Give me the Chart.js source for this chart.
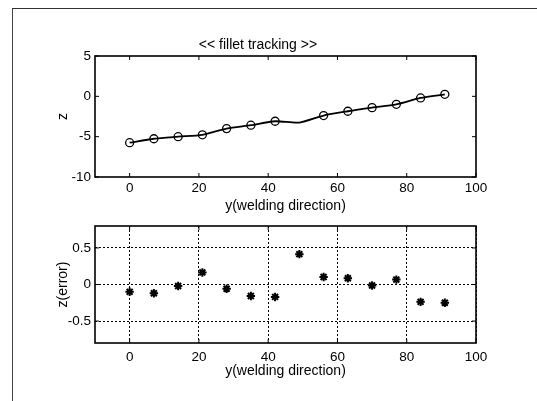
<!DOCTYPE html>
<html><head><meta charset="utf-8">
<script src="https://cdn.jsdelivr.net/npm/chart.js@4.4.1/dist/chart.umd.min.js"></script>
<style>
html,body{margin:0;padding:0;background:#fff;}
#wrap{position:relative;width:537px;height:401px;overflow:hidden;background:#fff;}
#wrap canvas{position:absolute;left:0;top:0;}
#frame{position:absolute;left:12px;top:8px;width:540px;height:410px;border-left:1px solid #444;border-top:1px solid #333;}
</style></head><body>
<div id="wrap"><div id="frame"></div><canvas id="c1" width="537" height="401"></canvas><canvas id="c2" width="537" height="401"></canvas></div>
<script>
// ---- data ----
const weldY  = [0, 7, 14, 21, 28, 35, 42, 49, 56, 63, 70, 77, 84, 91];
const seamZ  = [-5.75, -5.26, -5.0, -4.77, -4.0, -3.58, -3.09, -3.25, -2.38, -1.85, -1.4, -0.99, -0.2, 0.25];
const errorZ = [-0.10, -0.12, -0.02, 0.165, -0.058, -0.157, -0.17, 0.415, 0.103, 0.085, -0.013, 0.067, -0.237, -0.25];
const noMarkerAt = [49];
const xTicks   = [0, 20, 40, 60, 80, 100];
const zTicks   = [-10, -5, 0, 5];
const errTicks = [-0.5, 0, 0.5];
const titleText = '<< fillet tracking >>';
const xLabel = 'y(welding direction)';
const zLabel = 'z';
const errLabel = 'z(error)';

Chart.defaults.font.family = "'Liberation Sans', Arial, Helvetica, sans-serif";
Chart.defaults.color = '#000';

const boxPlugin = {
  id: 'box',
  afterDraw(chart) {
    const {ctx, chartArea: a, scales: {x, y}} = chart;
    const t = 4;
    ctx.save();
    ctx.strokeStyle = '#000';
    ctx.lineWidth = 1;
    ctx.beginPath();
    x.ticks.forEach(tk => {
      const px = x.getPixelForValue(tk.value);
      ctx.moveTo(px, a.bottom); ctx.lineTo(px, a.bottom - t);
      ctx.moveTo(px, a.top); ctx.lineTo(px, a.top + t);
    });
    y.ticks.forEach(tk => {
      const py = y.getPixelForValue(tk.value);
      ctx.moveTo(a.left, py); ctx.lineTo(a.left + t, py);
      ctx.moveTo(a.right, py); ctx.lineTo(a.right - t, py);
    });
    ctx.stroke();
    ctx.lineWidth = 1.6;
    ctx.strokeRect(a.left, a.top, a.right - a.left, a.bottom - a.top);
    ctx.restore();
  }
};

function xScale(height, tickPad, grid) {
  return {
    type: 'linear', min: -10, max: 100,
    afterBuildTicks: s => { s.ticks = xTicks.map(v => ({value: v})); },
    afterFit: s => { s.height = height; },
    ticks: {font: {size: 13.5}, padding: tickPad, color: '#000', maxRotation: 0},
    grid: grid ? {display: true, drawOnChartArea: true, drawTicks: false, color: '#000', lineWidth: 1}
               : {display: false, drawTicks: false},
    border: grid ? {display: false, dash: [2, 2]} : {display: false},
    title: {display: true, text: xLabel, font: {size: 14}, color: '#000', padding: 0}
  };
}

function yScale(min, max, ticksArr, label, grid, fmt) {
  return {
    type: 'linear', min: min, max: max,
    afterBuildTicks: s => { s.ticks = ticksArr.map(v => ({value: v})); },
    afterFit: s => { s.width = 55; },
    ticks: {font: {size: 13.5}, padding: 4, color: '#000', callback: fmt},
    grid: grid ? {display: true, drawOnChartArea: true, drawTicks: false, color: '#000', lineWidth: 1}
               : {display: false, drawTicks: false},
    border: grid ? {display: false, dash: [2, 2]} : {display: false},
    title: {display: true, text: label, font: {size: 14}, color: '#000', padding: {top: 14.6, bottom: 0}}
  };
}

new Chart(document.getElementById('c1'), {
  type: 'line',
  data: {
    datasets: [{
      data: weldY.map((v, i) => ({x: v, y: seamZ[i]})),
      borderColor: '#000', borderWidth: 1.8, tension: 0.25,
      pointStyle: 'circle',
      pointRadius: c => (noMarkerAt.includes(weldY[c.dataIndex]) ? 0 : 4),
      pointBorderColor: '#000', pointBorderWidth: 1.3,
      pointBackgroundColor: 'rgba(0,0,0,0)'
    }]
  },
  options: {
    responsive: false, animation: false, devicePixelRatio: 1, events: [],
    layout: {padding: {left: 40, right: 61, top: 37.2, bottom: 186.1}},
    plugins: {
      legend: {display: false}, tooltip: {enabled: false},
      title: {display: true, text: titleText, font: {size: 14, weight: 'normal'}, color: '#000', padding: {top: 0, bottom: 2}}
    },
    scales: {
      x: xScale(37.9, 3, false),
      y: yScale(-10, 5, zTicks, zLabel, false, v => String(v))
    }
  },
  plugins: [boxPlugin]
});

new Chart(document.getElementById('c2'), {
  type: 'scatter',
  data: {
    datasets: [{
      data: weldY.map((v, i) => ({x: v, y: errorZ[i]})),
      showLine: false,
      pointStyle: 'star', pointRadius: 4.2,
      pointBorderColor: '#000', pointBorderWidth: 2, pointBackgroundColor: '#000'
    }]
  },
  options: {
    responsive: false, animation: false, devicePixelRatio: 1, events: [],
    layout: {padding: {left: 40, right: 61, top: 226, bottom: 21.1}},
    plugins: {legend: {display: false}, tooltip: {enabled: false}},
    scales: {
      x: xScale(36.9, 6, true),
      y: yScale(-0.8, 0.8, errTicks, errLabel, true, v => String(v))
    }
  },
  plugins: [boxPlugin]
});
</script>
</body></html>
